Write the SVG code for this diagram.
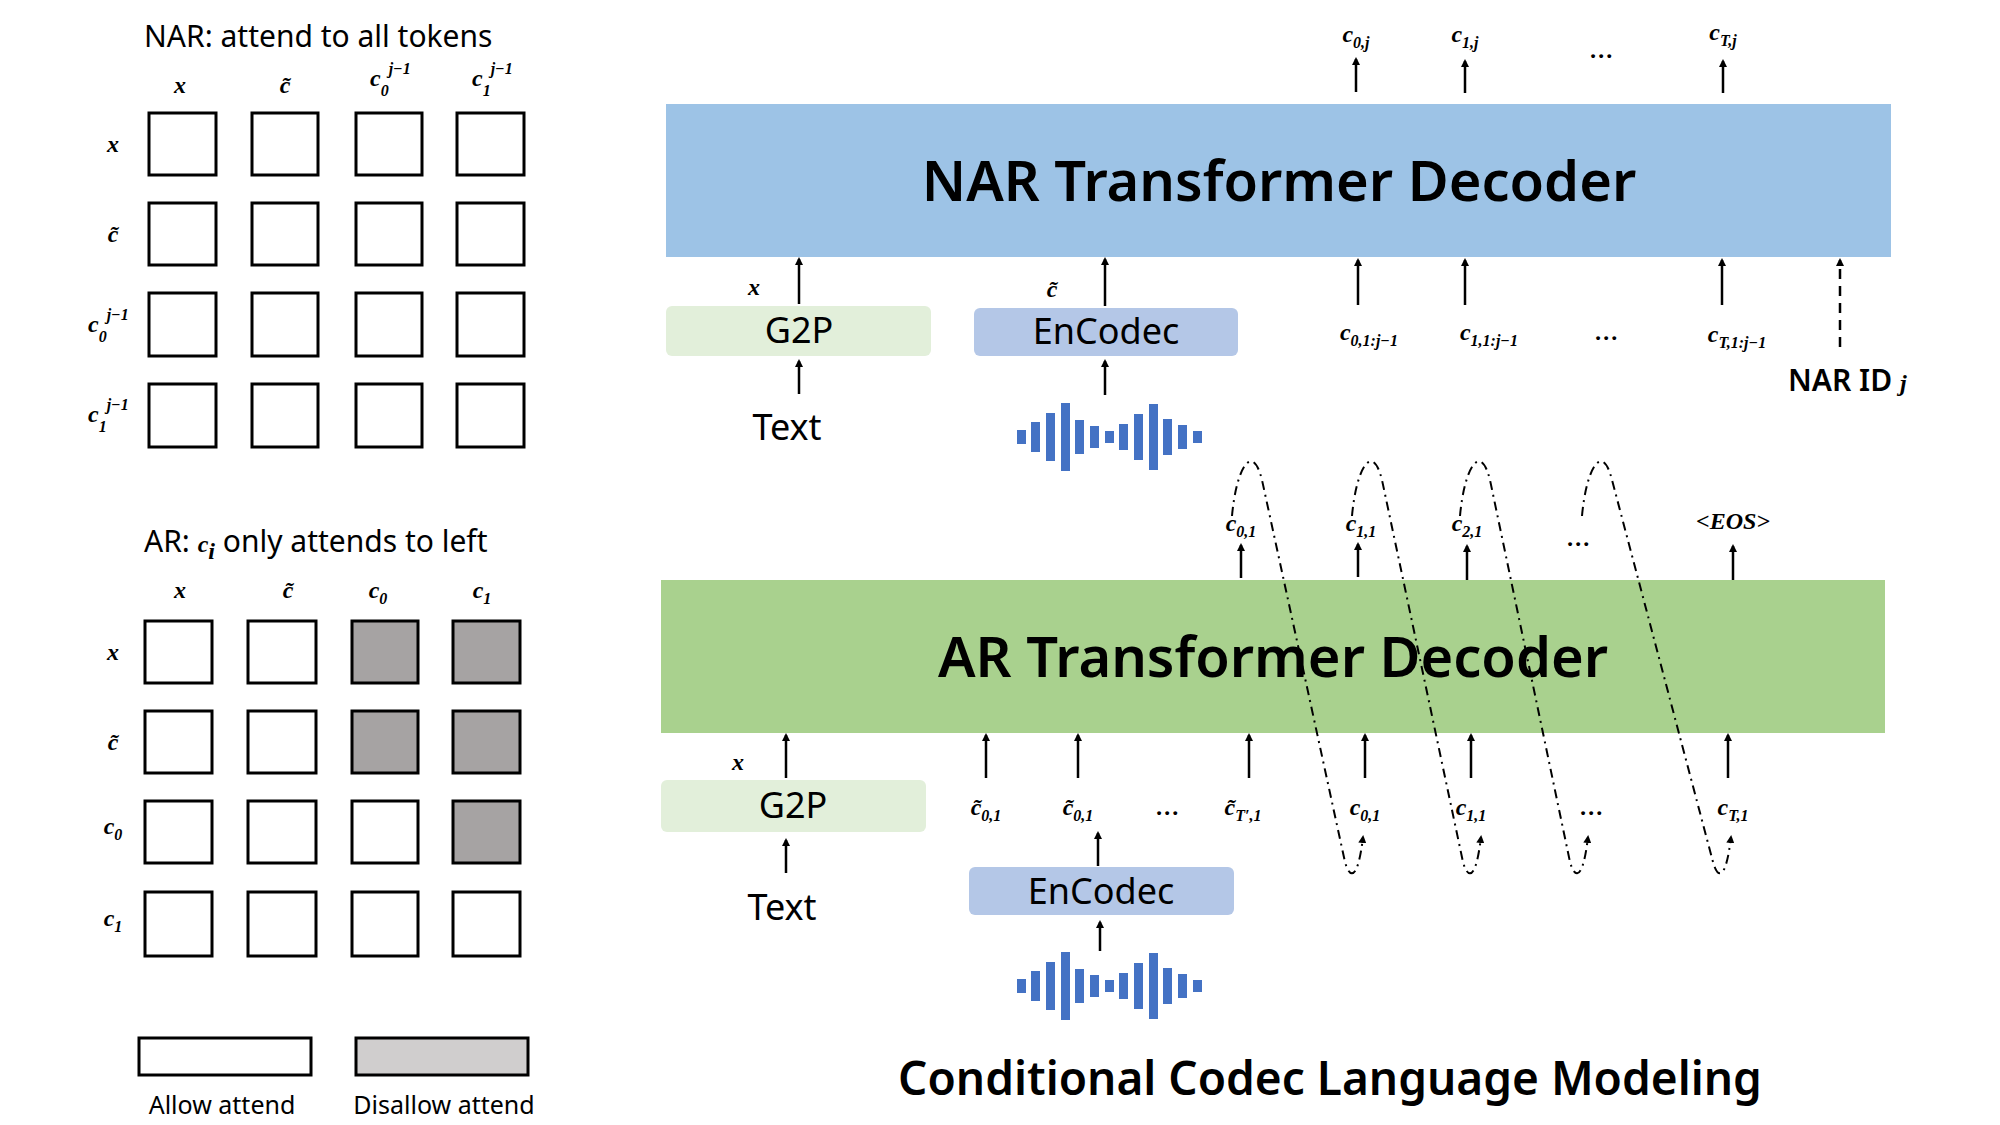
<svg xmlns="http://www.w3.org/2000/svg" width="2000" height="1125" viewBox="0 0 2000 1125">
<style>
.t{font-family:"Noto Sans","Open Sans",sans-serif;fill:#000}
.m{font-family:"Liberation Serif",serif;font-style:italic;font-weight:bold;fill:#000;font-size:24px}
.s{font-size:16px}
.cell{fill:#fff;stroke:#000;stroke-width:3}
.g{fill:#A6A3A3}
.ln{stroke:#000;stroke-width:2.5;fill:none;marker-end:url(#ah)}
.dd{stroke:#000;stroke-width:2;fill:none;stroke-dasharray:9 5 2 5;marker-end:url(#ah)}
.w{fill:#4472C4}
</style>
<defs>
<marker id="ah" markerWidth="8" markerHeight="8" refX="6" refY="4" orient="auto" markerUnits="userSpaceOnUse" viewBox="0 0 8 8"><path d="M0,0 L8,4 L0,8 z" fill="#000"/></marker>
<g id="wave">
<rect x="0" y="-7" width="9" height="14"/><rect x="14" y="-15" width="9" height="30"/><rect x="29" y="-24" width="9" height="48"/><rect x="44" y="-34" width="9" height="68"/><rect x="58" y="-17" width="9" height="34"/><rect x="73" y="-11" width="9" height="22"/><rect x="88" y="-6" width="9" height="12"/><rect x="102" y="-13" width="9" height="26"/><rect x="117" y="-23" width="9" height="46"/><rect x="132" y="-33" width="9" height="66"/><rect x="146" y="-18" width="9" height="36"/><rect x="161" y="-12" width="9" height="24"/><rect x="176" y="-6" width="9" height="12"/>
</g>
</defs>
<rect width="2000" height="1125" fill="#fff"/>

<!-- NAR attention grid -->
<g id="nar-grid">
<text class="t" x="144" y="47" font-size="30">NAR:  attend to all tokens</text>
<text class="m" x="180" y="93" text-anchor="middle">x</text>
<text class="m" x="285" y="93" text-anchor="middle">c̃</text>
<text class="m" x="370" y="86">c<tspan class="s" dy="10">0</tspan><tspan class="s" dy="-22">j−1</tspan></text>
<text class="m" x="472" y="86">c<tspan class="s" dy="10">1</tspan><tspan class="s" dy="-22">j−1</tspan></text>
<text class="m" x="113" y="152" text-anchor="middle">x</text>
<text class="m" x="113" y="242" text-anchor="middle">c̃</text>
<text class="m" x="88" y="332">c<tspan class="s" dy="10">0</tspan><tspan class="s" dy="-22">j−1</tspan></text>
<text class="m" x="88" y="422">c<tspan class="s" dy="10">1</tspan><tspan class="s" dy="-22">j−1</tspan></text>
<rect class="cell" x="149" y="113" width="67" height="62"/><rect class="cell" x="252" y="113" width="66" height="62"/><rect class="cell" x="356" y="113" width="66" height="62"/><rect class="cell" x="457" y="113" width="67" height="62"/>
<rect class="cell" x="149" y="203" width="67" height="62"/><rect class="cell" x="252" y="203" width="66" height="62"/><rect class="cell" x="356" y="203" width="66" height="62"/><rect class="cell" x="457" y="203" width="67" height="62"/>
<rect class="cell" x="149" y="293" width="67" height="63"/><rect class="cell" x="252" y="293" width="66" height="63"/><rect class="cell" x="356" y="293" width="66" height="63"/><rect class="cell" x="457" y="293" width="67" height="63"/>
<rect class="cell" x="149" y="384" width="67" height="63"/><rect class="cell" x="252" y="384" width="66" height="63"/><rect class="cell" x="356" y="384" width="66" height="63"/><rect class="cell" x="457" y="384" width="67" height="63"/>
</g>

<!-- AR attention grid -->
<g id="ar-grid">
<text class="t" x="144" y="552" font-size="30">AR: <tspan class="m" font-size="28">c</tspan><tspan class="m" font-size="18" dy="7">i</tspan><tspan dy="-7"> only attends to left</tspan></text>
<text class="m" x="180" y="598" text-anchor="middle">x</text>
<text class="m" x="288" y="598" text-anchor="middle">c̃</text>
<text class="m" x="378" y="598" text-anchor="middle">c<tspan class="s" dy="6">0</tspan></text>
<text class="m" x="482" y="598" text-anchor="middle">c<tspan class="s" dy="6">1</tspan></text>
<text class="m" x="113" y="660" text-anchor="middle">x</text>
<text class="m" x="113" y="750" text-anchor="middle">c̃</text>
<text class="m" x="113" y="834" text-anchor="middle">c<tspan class="s" dy="6">0</tspan></text>
<text class="m" x="113" y="926" text-anchor="middle">c<tspan class="s" dy="6">1</tspan></text>
<rect class="cell" x="145" y="621" width="67" height="62"/><rect class="cell" x="248" y="621" width="68" height="62"/><rect class="cell g" x="352" y="621" width="66" height="62"/><rect class="cell g" x="453" y="621" width="67" height="62"/>
<rect class="cell" x="145" y="711" width="67" height="62"/><rect class="cell" x="248" y="711" width="68" height="62"/><rect class="cell g" x="352" y="711" width="66" height="62"/><rect class="cell g" x="453" y="711" width="67" height="62"/>
<rect class="cell" x="145" y="801" width="67" height="62"/><rect class="cell" x="248" y="801" width="68" height="62"/><rect class="cell" x="352" y="801" width="66" height="62"/><rect class="cell g" x="453" y="801" width="67" height="62"/>
<rect class="cell" x="145" y="892" width="67" height="64"/><rect class="cell" x="248" y="892" width="68" height="64"/><rect class="cell" x="352" y="892" width="66" height="64"/><rect class="cell" x="453" y="892" width="67" height="64"/>
</g>

<!-- legend -->
<g id="legend">
<rect class="cell" x="139" y="1038" width="172" height="37"/>
<rect class="cell" x="356" y="1038" width="172" height="37" fill="#D0CECE" style="fill:#D0CECE"/>
<text class="t" x="222" y="1114" font-size="25" text-anchor="middle">Allow attend</text>
<text class="t" x="444" y="1114" font-size="25" text-anchor="middle">Disallow attend</text>
</g>

<!-- NAR decoder -->
<g id="nar-decoder">
<rect x="666" y="104" width="1225" height="153" fill="#9DC3E6"/>
<text class="t" x="1279" y="201" font-size="56" font-weight="600" text-anchor="middle">NAR Transformer Decoder</text>
</g>
<g id="nar-g2p">
<rect x="666" y="306" width="265" height="50" rx="6" fill="#E2EFDA"/>
<text class="t" x="799" y="343" font-size="36" text-anchor="middle">G2P</text>
</g>
<g id="nar-encodec">
<rect x="974" y="308" width="264" height="48" rx="6" fill="#B4C7E7"/>
<text class="t" x="1106" y="344" font-size="36" text-anchor="middle">EnCodec</text>
</g>
<g id="nar-text"><text class="t" x="787" y="440" font-size="36" text-anchor="middle">Text</text></g>
<g id="nar-wave" class="w"><use href="#wave" x="1017" y="437"/></g>
<g id="nar-labels">
<text class="m" x="754" y="295" text-anchor="middle">x</text>
<text class="m" x="1052" y="297" text-anchor="middle">c̃</text>
<text class="m" x="1356" y="42" text-anchor="middle">c<tspan class="s" dy="6">0,j</tspan></text>
<text class="m" x="1465" y="42" text-anchor="middle">c<tspan class="s" dy="6">1,j</tspan></text>
<text class="m" x="1602" y="58" text-anchor="middle">…</text>
<text class="m" x="1723" y="40" text-anchor="middle">c<tspan class="s" dy="6">T,j</tspan></text>
<text class="m" x="1369" y="340" text-anchor="middle">c<tspan class="s" dy="6">0,1:j−1</tspan></text>
<text class="m" x="1489" y="340" text-anchor="middle">c<tspan class="s" dy="6">1,1:j−1</tspan></text>
<text class="m" x="1607" y="340" text-anchor="middle">…</text>
<text class="m" x="1737" y="342" text-anchor="middle">c<tspan class="s" dy="6">T,1:j−1</tspan></text>
<text class="t" x="1788" y="391" font-size="30" font-weight="600">NAR ID <tspan class="m" font-size="30">j</tspan></text>
</g>

<!-- AR decoder -->
<g id="ar-decoder">
<rect x="661" y="580" width="1224" height="153" fill="#A9D18E"/>
<text class="t" x="1273" y="677" font-size="56" font-weight="600" text-anchor="middle">AR Transformer Decoder</text>
</g>
<g id="ar-g2p">
<rect x="661" y="780" width="265" height="52" rx="6" fill="#E2EFDA"/>
<text class="t" x="793" y="818" font-size="36" text-anchor="middle">G2P</text>
</g>
<g id="ar-encodec">
<rect x="969" y="867" width="265" height="48" rx="6" fill="#B4C7E7"/>
<text class="t" x="1101" y="904" font-size="36" text-anchor="middle">EnCodec</text>
</g>
<g id="ar-text"><text class="t" x="782" y="920" font-size="36" text-anchor="middle">Text</text></g>
<g id="ar-wave" class="w"><use href="#wave" x="1017" y="986"/></g>
<g id="ar-labels">
<text class="m" x="738" y="770" text-anchor="middle">x</text>
<text class="m" x="1241" y="531" text-anchor="middle">c<tspan class="s" dy="6">0,1</tspan></text>
<text class="m" x="1361" y="531" text-anchor="middle">c<tspan class="s" dy="6">1,1</tspan></text>
<text class="m" x="1467" y="531" text-anchor="middle">c<tspan class="s" dy="6">2,1</tspan></text>
<text class="m" x="1579" y="546" text-anchor="middle">…</text>
<text class="m" x="1733" y="529" text-anchor="middle" font-size="20">&lt;EOS&gt;</text>
<text class="m" x="986" y="815" text-anchor="middle">c̃<tspan class="s" dy="6">0,1</tspan></text>
<text class="m" x="1078" y="815" text-anchor="middle">c̃<tspan class="s" dy="6">0,1</tspan></text>
<text class="m" x="1168" y="815" text-anchor="middle">…</text>
<text class="m" x="1243" y="815" text-anchor="middle">c̃<tspan class="s" dy="6">T′,1</tspan></text>
<text class="m" x="1365" y="815" text-anchor="middle">c<tspan class="s" dy="6">0,1</tspan></text>
<text class="m" x="1471" y="815" text-anchor="middle">c<tspan class="s" dy="6">1,1</tspan></text>
<text class="m" x="1592" y="815" text-anchor="middle">…</text>
<text class="m" x="1733" y="815" text-anchor="middle">c<tspan class="s" dy="6">T,1</tspan></text>
</g>

<g id="title"><text class="t" x="1330" y="1095" font-size="46" font-weight="600" text-anchor="middle">Conditional Codec Language Modeling</text></g>

<g id="connectors">
<!-- NAR -->
<path class="ln" d="M1356,92 V59"/><path class="ln" d="M1465,93 V61"/><path class="ln" d="M1723,93 V61"/>
<path class="ln" d="M799,304 V259"/><path class="ln" d="M799,394 V361"/>
<path class="ln" d="M1105,306 V259"/><path class="ln" d="M1105,395 V361"/>
<path class="ln" d="M1358,305 V260"/><path class="ln" d="M1465,305 V260"/><path class="ln" d="M1722,305 V260"/>
<path class="ln" d="M1840,347 V260" stroke-dasharray="10 7"/>
<!-- AR -->
<path class="ln" d="M1241,578 V545"/><path class="ln" d="M1358,577 V544"/><path class="ln" d="M1467,580 V546"/><path class="ln" d="M1733,580 V546"/>
<path class="ln" d="M786,778 V735"/><path class="ln" d="M786,873 V840"/>
<path class="ln" d="M986,778 V735"/><path class="ln" d="M1078,778 V735"/><path class="ln" d="M1249,778 V735"/>
<path class="ln" d="M1365,778 V735"/><path class="ln" d="M1471,778 V735"/><path class="ln" d="M1728,778 V735"/>
<path class="ln" d="M1098,866 V833"/><path class="ln" d="M1100,951 V922"/>
<!-- autoregressive loops -->
<path class="dd" d="M1232,516 C1236,470 1252,440 1262,480 L1345,862 C1350,880 1358,880 1363,837"/>
<path class="dd" d="M1352,516 C1356,470 1372,440 1382,480 L1463,862 C1468,880 1476,880 1481,837"/>
<path class="dd" d="M1460,516 C1464,470 1480,440 1490,480 L1570,862 C1575,880 1583,880 1588,837"/>
<path class="dd" d="M1582,516 C1586,470 1602,440 1612,480 L1713,862 C1718,880 1726,880 1731,837"/>
</g>
</svg>
